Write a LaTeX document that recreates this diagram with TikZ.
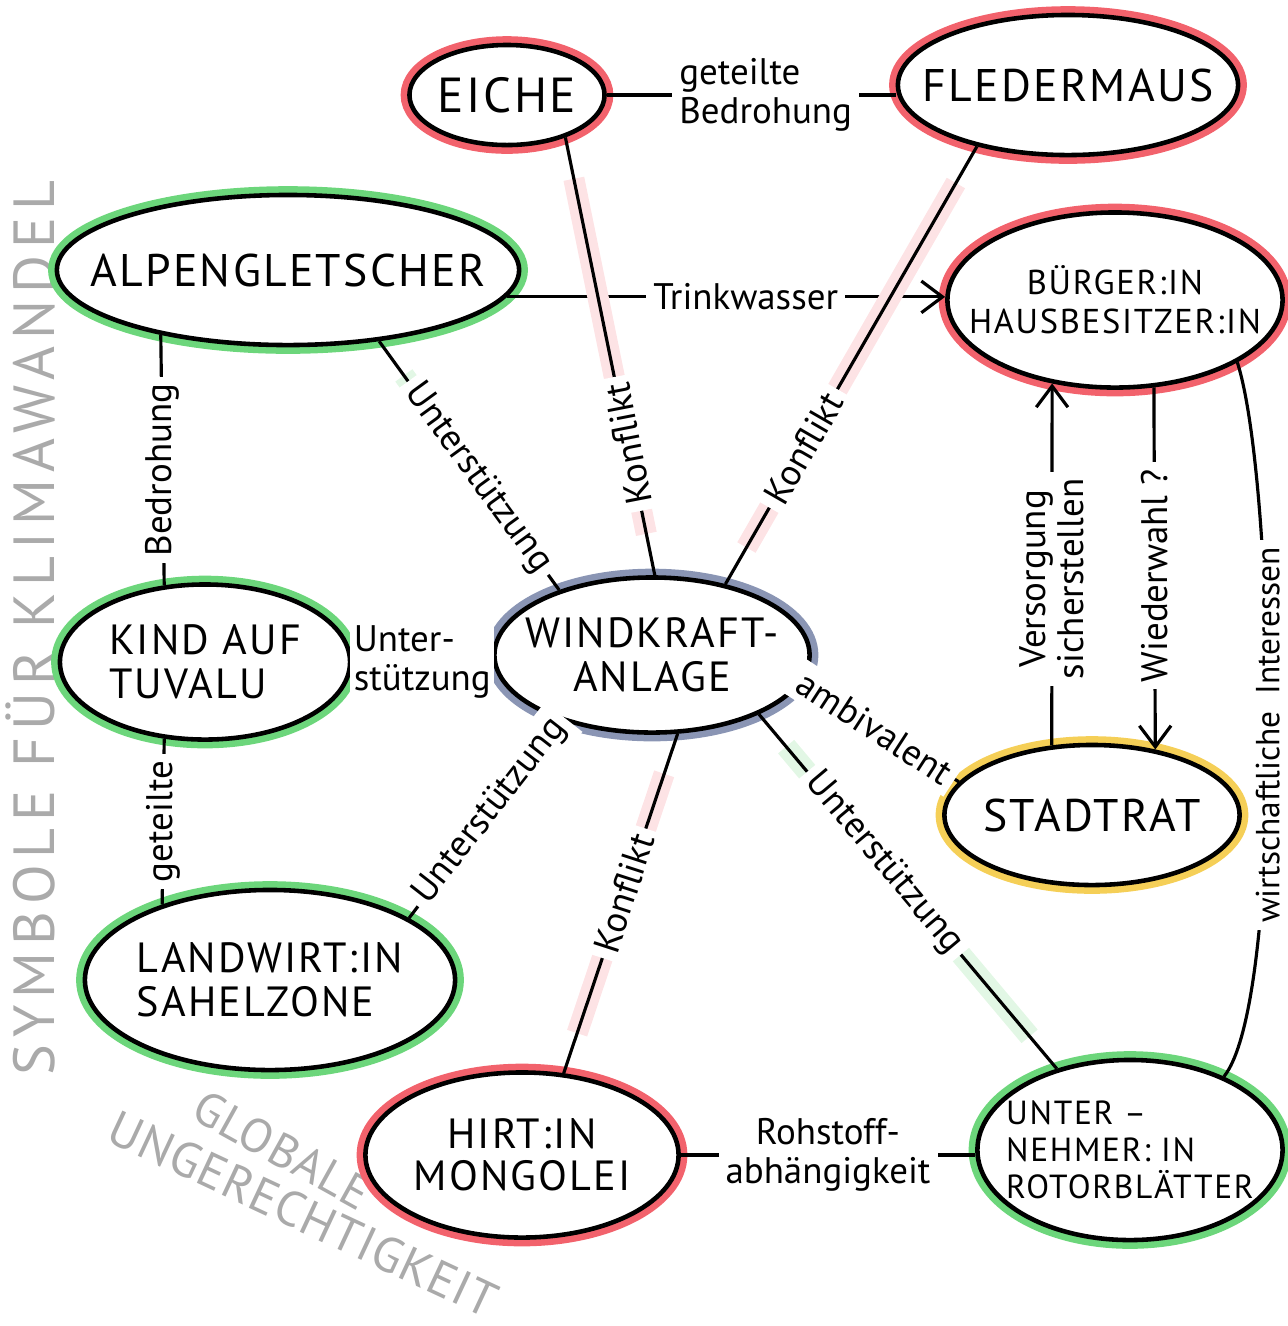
\documentclass[tikz,border=0pt]{standalone}
\usepackage{fontspec}
\setmainfont{PT Sans}
\newfontfamily\capsfont[LetterSpace=5]{PT Sans}
\newfontfamily\graysfont[LetterSpace=12]{PT Sans}
\newfontfamily\graytfont[LetterSpace=2]{PT Sans}
\usepackage{tikz}
\usetikzlibrary{arrows.meta, positioning, shapes.geometric}
\definecolor{conflictred}{HTML}{F2626C}
\definecolor{supportgreen}{HTML}{6CD67B}
\definecolor{windblue}{HTML}{8A95B4}
\definecolor{councilyellow}{HTML}{F5CF57}
\definecolor{symbolgray}{HTML}{AAAAAA}

\begin{document}
\begin{tikzpicture}[x=0.01cm, y=-0.01cm,
  blob/.style={draw=black, ellipse, line width=1.3pt, inner sep=0pt, fill=white, preaction={draw=#1, line width=5pt}},
  ntxt/.style n args={2}{align=center, font=\capsfont\fontsize{#1}{#2}\selectfont},
  lbl/.style={fill=white, inner sep=2pt, align=center, font=\fontsize{10.5}{11}\selectfont},
  link/.style={line width=0.9pt},
  konf/.style={link, preaction={draw=conflictred!18, line width=6pt, shorten <=12pt, shorten >=12pt}},
  stuetz/.style={link, preaction={draw=supportgreen!20, line width=6pt, shorten <=12pt, shorten >=12pt}},
  tip/.style={-{Straight Barb[length=6pt, width=9pt, line width=0.9pt]}},
  symb/.style={text=symbolgray, font=\graysfont\fontsize{#1}{#1}\selectfont},
  symt/.style={text=symbolgray, font=\graytfont\fontsize{#1}{#1}\selectfont}]
\useasboundingbox (0,0) rectangle (1288,1326);

\node[symb=16.5, rotate=90] (klima) at (30,628) {SYMBOLE FÜR KLIMAWANDEL};
\node[symt=13.5, rotate=-29] (globale) at (282,1150) {GLOBALE};
\node[symt=14, rotate=-25] (unrecht) at (303,1214) {UNGERECHTIGKEIT};

\node[blob=conflictred, minimum width=1.95cm, minimum height=1cm, label={[ntxt={14}{16}]center:EICHE}] (eiche) at (507,95) {};
\node[blob=conflictred, minimum width=3.4cm, minimum height=1.4cm, label={[ntxt={13}{15}]center:FLEDERMAUS}] (fleder) at (1068,85) {};
\node[blob=supportgreen, minimum width=4.62cm, minimum height=1.5cm, label={[ntxt={13}{15}]center:ALPENGLETSCHER}] (alpen) at (288,270) {};
\node[blob=conflictred, minimum width=3.35cm, minimum height=1.75cm, label={[ntxt={9.8}{11}]center:{BÜRGER:IN\\HAUSBESITZER:IN}}] (buerger) at (1115,300) {};
\node[blob=supportgreen, minimum width=2.9cm, minimum height=1.55cm, label={[ntxt={12}{12.5}, align=left]center:{KIND AUF\\TUVALU}}] (kind) at (205,662) {};
\node[blob=windblue, minimum width=3.15cm, minimum height=1.55cm, label={[ntxt={12}{12.5}]center:{WINDKRAFT-\\ANLAGE}}] (wka) at (652,655) {};
\node[blob=councilyellow, minimum width=2.95cm, minimum height=1.4cm, label={[ntxt={13}{15}]center:STADTRAT}] (stadt) at (1092,815) {};
\node[blob=supportgreen, minimum width=3.7cm, minimum height=1.8cm, label={[ntxt={12}{12.5}, align=left]center:{LANDWIRT:IN\\SAHELZONE}}] (land) at (270,980) {};
\node[blob=conflictred, minimum width=3.13cm, minimum height=1.65cm, label={[ntxt={12}{12}]center:{HIRT:IN\\MONGOLEI}}] (hirt) at (522,1155) {};
\node[blob=supportgreen, minimum width=3.05cm, minimum height=1.8cm, label={[ntxt={9.5}{10.5}, align=left]center:{UNTER –\\NEHMER: IN\\ROTORBLÄTTER}}] (unter) at (1130,1150) {};

\draw[link] (eiche.east) -- (eiche.east -| fleder.west) node[lbl, pos=0.55, align=left] {geteilte\\Bedrohung};
\draw[link, tip] (alpen.-7) -- (alpen.-7 -| buerger.west) node[lbl, pos=0.545] {Trinkwasser};
\draw[konf] (eiche.-36) -- (wka.88) node[lbl, pos=0.7, rotate=101] {Konflikt};
\draw[konf] (fleder.-146) -- (wka.44) node[lbl, pos=0.69, rotate=60] {Konflikt};
\draw[stuetz] (alpen.-38) -- (wka.145) node[lbl, pos=0.55, rotate=-54] {Unterstützung};
\draw[link] (alpen.-153) -- (kind.118) node[lbl, pos=0.54, rotate=90] {Bedrohung};
\draw[stuetz] (kind.east) -- (kind.east -| wka.west) node[lbl, pos=0.5, inner sep=1pt, align=left] {Unter-\\stützung};
\draw[link] (kind.-118) -- (land.145) node[lbl, pos=0.5, rotate=90] {geteilte};
\draw[stuetz] (land.24) -- (wka.-145) node[lbl, pos=0.54, rotate=52] {Unterstützung};
\draw[konf] (hirt.63) -- (wka.-72) node[lbl, pos=0.53, rotate=72] {Konflikt};
\draw[stuetz] (unter.132) -- (wka.-29) node[lbl, pos=0.58, rotate=-50] {Unterstützung};
\draw[link, preaction={draw=councilyellow!30, line width=6pt, shorten <=12pt, shorten >=12pt}] (stadt.166) -- (wka.-10) node[lbl, pos=0.54, rotate=-33] {ambivalent};
\draw[link, tip] (stadt.120) -- (buerger.-127) node[lbl, pos=0.46, rotate=90] {Versorgung\\sicherstellen};
\draw[link, tip] (buerger.-66) -- (stadt.46) node[lbl, pos=0.52, rotate=90] {Wiederwahl ?};
\draw[link] (buerger.-27) .. controls (1275,480) and (1285,1000) .. (unter.38) node[lbl, pos=0.5, rotate=90, font=\fontsize{9.5}{10}\selectfont] {wirtschaftliche\enspace Interessen};
\draw[link] (hirt.east) -- (hirt.east -| unter.west) node[lbl, pos=0.5] {Rohstoff-\\abhängigkeit};
\end{tikzpicture}
\end{document}
